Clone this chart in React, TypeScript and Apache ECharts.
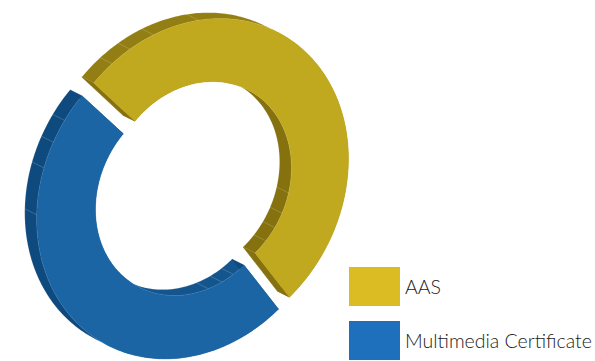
import React, { useEffect, useRef } from "react";
import * as echarts from "echarts";

// Slice values and names
const names = ["AAS", "Multimedia Certificate"];
const values = [52, 48];

// Seam positions on the ring walls, in degrees along each slice from its start
const outerSeams = [[8.8, 16.5, 26, 43], [130, 146, 155, 163]];
const innerSeams = [[148, 160, 169, 178], [8, 16, 25]];

// Face colours per slice
const legendColors = ["#DBBC22", "#1F70BC"];
const topColors = ["#C0A81F", "#1B65A5"];
const outerWallColors = ["#927E12", "#0F4A7E"];
const innerWallColors = ["#85710E", "#14558E"];
const capColors = ["#85710E", "#0F4A7E"];

// Projection of the tilted disc onto the canvas
const CX = 196.5;
const CY = 192.3;
const M = [150, 0, -24, 162];
const PERSPECTIVE = 0.025;
const INNER = 0.615;
// The hole sits slightly nearer the viewer's upper left than the rim
const INNER_SHIFT = [-0.01, -0.016];
const EXPLODE = 0.05;
const START = -134.3;
const DEPTH = [-12, -6];

const rad = (d: number) => (d * Math.PI) / 180;

function project(u: number, v: number, back: boolean): number[] {
  const w = 1 + PERSPECTIVE * u + PERSPECTIVE * v;
  const x = CX + (M[0] * u + M[1] * v) / w + (back ? DEPTH[0] : 0);
  const y = CY + (M[2] * u + M[3] * v) / w + (back ? DEPTH[1] : 0);
  return [x, y];
}

function sliceRange(index: number): number[] {
  const total = values.reduce((a, b) => a + b, 0);
  let a = START;
  for (let i = 0; i < index; i++) a += (values[i] / total) * 360;
  return [a, a + (values[index] / total) * 360];
}

function renderSlice(index: number) {
  const [a0, a1] = sliceRange(index);
  const mid = rad((a0 + a1) / 2);
  const ox = EXPLODE * Math.cos(mid);
  const oy = EXPLODE * Math.sin(mid);
  const pt = (deg: number, r: number, back: boolean) => {
    const sx = r < 1 ? INNER_SHIFT[0] : 0;
    const sy = r < 1 ? INNER_SHIFT[1] : 0;
    return project(ox + sx + r * Math.cos(rad(deg)), oy + sy + r * Math.sin(rad(deg)), back);
  };
  const arc = (r: number, back: boolean) => {
    const pts: number[][] = [];
    const n = Math.ceil(a1 - a0);
    for (let i = 0; i <= n; i++) pts.push(pt(a0 + ((a1 - a0) * i) / n, r, back));
    return pts;
  };
  const edge = "rgba(255,255,255,0.3)";
  const poly = (points: number[][], fill: string, stroke = fill, lineWidth = 0.5) => ({
    type: "polygon",
    shape: { points },
    style: { fill, stroke, lineWidth },
    silent: true,
  });
  const seam = (deg: number, r: number) => ({
    type: "line",
    shape: {
      x1: pt(deg, r, false)[0],
      y1: pt(deg, r, false)[1],
      x2: pt(deg, r, true)[0],
      y2: pt(deg, r, true)[1],
    },
    style: { stroke: edge, lineWidth: 0.6 },
    silent: true,
  });
  const children: any[] = [
    poly([...arc(1, false), ...arc(1, true).reverse()], outerWallColors[index], edge),
    poly([...arc(INNER, false), ...arc(INNER, true).reverse()], innerWallColors[index], edge),
    poly([pt(a0, 1, false), pt(a0, INNER, false), pt(a0, INNER, true), pt(a0, 1, true)], capColors[index]),
    poly([pt(a1, 1, false), pt(a1, INNER, false), pt(a1, INNER, true), pt(a1, 1, true)], capColors[index]),
  ];
  outerSeams[index].forEach((s) => children.push(seam(a0 + s, 1)));
  innerSeams[index].forEach((s) => children.push(seam(a0 + s, INNER)));
  children.push(poly([...arc(1, false), ...arc(INNER, false).reverse()], topColors[index]));
  return { type: "group", children };
}

export default function App() {
  const ref = useRef<HTMLDivElement>(null);
  useEffect(() => {
    const chart = echarts.init(ref.current!, undefined, { renderer: "svg" });
    chart.setOption({
      animation: false,
      backgroundColor: "#ffffff",
      legend: {
        orient: "vertical",
        left: 349,
        top: 267,
        padding: 0,
        itemWidth: 51,
        itemHeight: 39,
        itemGap: 15,
        icon: "rect",
        selectedMode: false,
        data: names,
        textStyle: { fontFamily: "Lato", fontWeight: 300, fontSize: 19.5, color: "#222222" },
      },
      series: names.map((name, i) => ({
        type: "custom",
        name,
        coordinateSystem: "none",
        clip: false,
        silent: true,
        itemStyle: { color: legendColors[i] },
        data: [values[i]],
        renderItem: () => renderSlice(i),
      })),
    });
    return () => chart.dispose();
  }, []);
  return <div ref={ref} style={{ position: "fixed", left: 0, top: 0, width: 595, height: 361 }} />;
}
